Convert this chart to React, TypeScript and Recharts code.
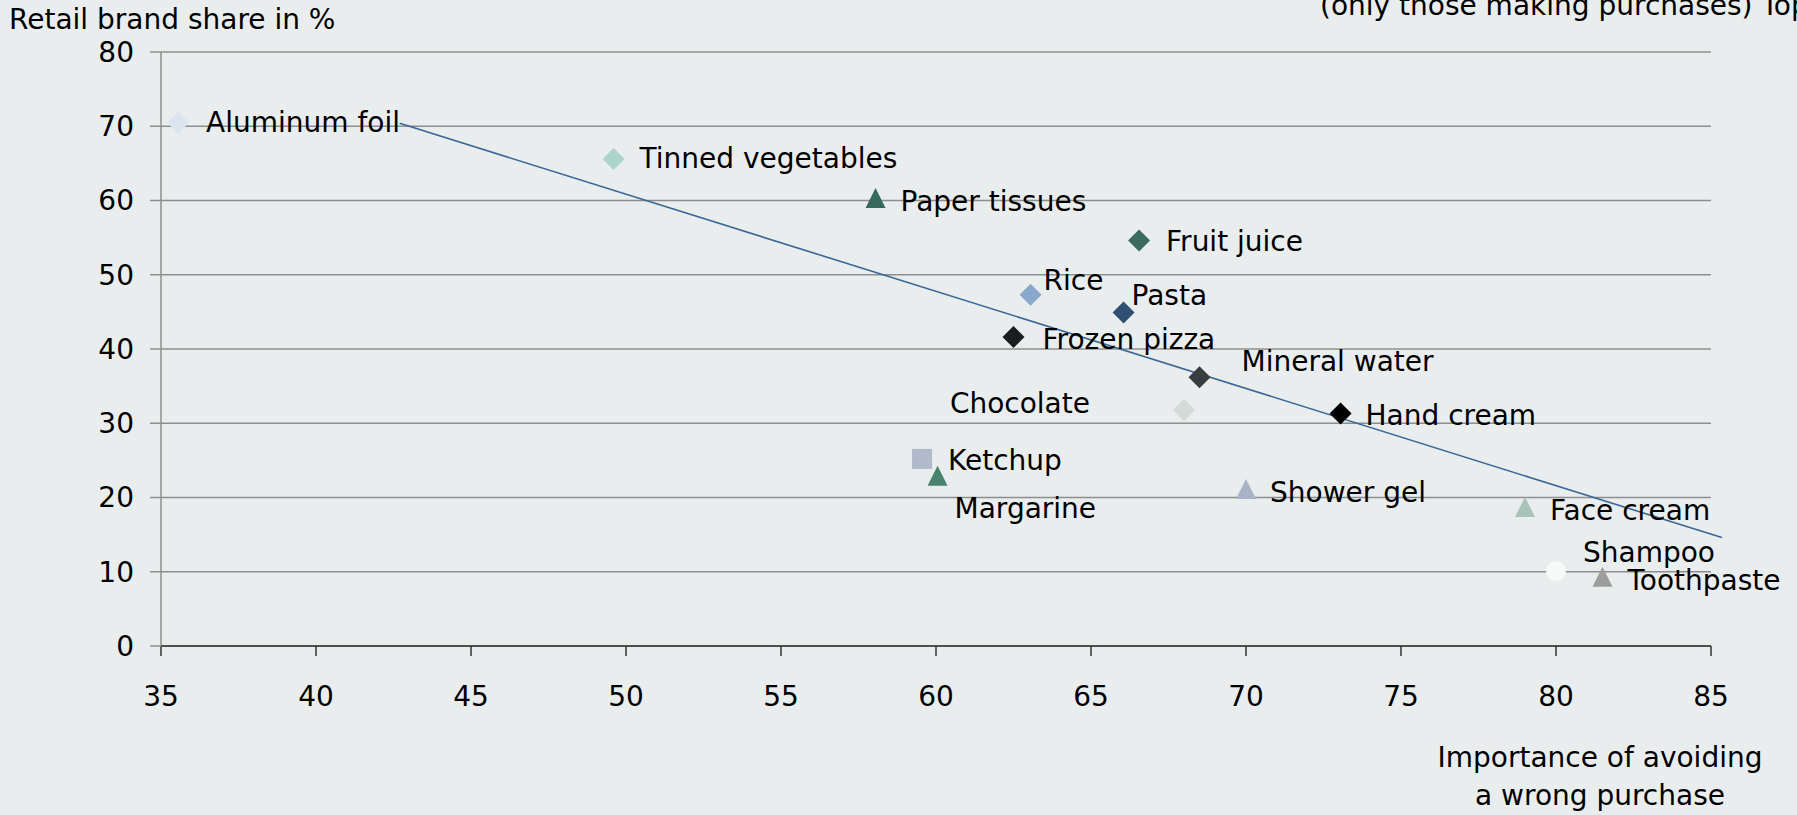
import {
  CartesianGrid,
  ReferenceLine,
  Scatter,
  ScatterChart,
  XAxis,
  YAxis,
} from "recharts";

const PRODUCTS = [
  "Aluminum foil",
  "Tinned vegetables",
  "Paper tissues",
  "Fruit juice",
  "Rice",
  "Pasta",
  "Frozen pizza",
  "Mineral water",
  "Chocolate",
  "Hand cream",
  "Ketchup",
  "Margarine",
  "Shower gel",
  "Face cream",
  "Shampoo",
  "Toothpaste",
];

// importance of avoiding a wrong purchase
const AVOID_WRONG = [35.55, 49.6, 58.05, 66.55, 63.05, 66.05, 62.5, 68.5, 68.0, 73.05, 59.55, 60.05, 70.0, 79.0, 80.0, 81.5];

// retail brand share in %
const BRAND_SHARE = [70.5, 65.6, 60.2, 54.6, 47.3, 44.9, 41.6, 36.2, 31.8, 31.3, 25.2, 22.8, 21.0, 18.6, 10.1, 9.2];

const X_TICKS = [35, 40, 45, 50, 55, 60, 65, 70, 75, 80, 85];
const Y_TICKS = [0, 10, 20, 30, 40, 50, 60, 70, 80];

// trend line endpoints
const TREND_X = [42.7, 85.35];
const TREND_Y = [70.4, 14.6];

// marker look per product
const MARKERS = [
  "diamond", "diamond", "triangle", "diamond", "diamond", "diamond", "diamond", "diamond",
  "diamond", "diamond", "square", "triangle", "triangle", "triangle", "circle", "triangle",
];
const COLORS = [
  "#dbe5ef", "#acd4c8", "#366a5a", "#3b6b5c", "#8aa8cc", "#2f5072", "#1a1c1e", "#383e3f",
  "#d3dbd8", "#000000", "#b1bacb", "#4a8270", "#a8b4c6", "#a9c3bb", "#f7f8f8", "#9d9d9d",
];

// label offsets from the marker centre (px), anchor
const LABEL_POS: [number, number, "start" | "end"][] = [
  [28, 0, "start"],
  [26, 0, "start"],
  [25, 2, "start"],
  [27, 1, "start"],
  [13, -14, "start"],
  [8, -17, "start"],
  [29, 2, "start"],
  [42, -16, "start"],
  [-94, -6, "end"],
  [25, 2, "start"],
  [26, 2, "start"],
  [17, 32, "start"],
  [24, 2, "start"],
  [25, 3, "start"],
  [27, -19, "start"],
  [25, 3, "start"],
];

const FONT = "'DejaVu Sans', Verdana, sans-serif";
const FS = 28;
const BG = "#e9edee";
const GRID = "#8e8e8e";

const data = PRODUCTS.map((name, i) => ({
  name,
  x: AVOID_WRONG[i],
  y: BRAND_SHARE[i],
  marker: MARKERS[i],
  color: COLORS[i],
  label: LABEL_POS[i],
}));

function PointShape(props: any) {
  const { cx, cy, payload } = props;
  if (cx == null || cy == null) return null;
  const c = payload.color;
  let mark = null;
  if (payload.marker === "diamond") {
    const r = 11;
    mark = <polygon points={`${cx},${cy - r} ${cx + r},${cy} ${cx},${cy + r} ${cx - r},${cy}`} fill={c} />;
  } else if (payload.marker === "triangle") {
    mark = <polygon points={`${cx},${cy - 11} ${cx + 10},${cy + 9} ${cx - 10},${cy + 9}`} fill={c} />;
  } else if (payload.marker === "square") {
    mark = <rect x={cx - 10} y={cy - 10} width={20} height={20} fill={c} />;
  } else {
    mark = <circle cx={cx} cy={cy} r={10} fill={c} />;
  }
  const [dx, dy, anchor] = payload.label;
  return (
    <g>
      {mark}
      <text
        x={cx + dx}
        y={cy + dy}
        textAnchor={anchor}
        dominantBaseline="central"
        fontSize={FS}
        fontFamily={FONT}
        fill="#000"
      >
        {payload.name}
      </text>
    </g>
  );
}

export default function App() {
  return (
    <div style={{ position: "fixed", inset: 0, background: BG, overflow: "hidden" }}>
      <ScatterChart
        width={1797}
        height={815}
        margin={{ top: 52, right: 86, bottom: 0, left: 0 }}
        style={{ fontFamily: FONT }}
      >
        <CartesianGrid horizontal vertical={false} stroke={GRID} strokeWidth={1.5} />
        <XAxis
          type="number"
          dataKey="x"
          domain={[35, 85]}
          ticks={X_TICKS}
          interval={0}
          height={169}
          tickSize={10}
          tickMargin={30}
          axisLine={{ stroke: "#333", strokeWidth: 1.5 }}
          tickLine={{ stroke: "#333", strokeWidth: 1.5 }}
          tick={{ fontSize: FS, fill: "#000", fontFamily: FONT }}
        />
        <YAxis
          type="number"
          dataKey="y"
          domain={[0, 80]}
          ticks={Y_TICKS}
          interval={0}
          width={161}
          tickSize={11}
          tickMargin={16}
          axisLine={{ stroke: GRID, strokeWidth: 1.5 }}
          tickLine={{ stroke: GRID, strokeWidth: 1.5 }}
          tick={{ fontSize: FS, fill: "#000", fontFamily: FONT }}
        />
        <Scatter data={data} shape={PointShape} isAnimationActive={false} />
        <ReferenceLine
          segment={[
            { x: TREND_X[0], y: TREND_Y[0] },
            { x: TREND_X[1], y: TREND_Y[1] },
          ]}
          ifOverflow="visible"
          stroke="#3a6796"
          strokeWidth={1.6}
        />
        <text x={9} y={29} fontSize={FS} fontFamily={FONT} fill="#000">
          Retail brand share in %
        </text>
        <text x={1320} y={15} fontSize={FS} fontFamily={FONT} fill="#000">
          (only those making purchases) TopBox in %
        </text>
        <text x={1600} y={757} textAnchor="middle" dominantBaseline="central" fontSize={FS} fontFamily={FONT} fill="#000">
          Importance of avoiding
        </text>
        <text x={1600} y={795} textAnchor="middle" dominantBaseline="central" fontSize={FS} fontFamily={FONT} fill="#000">
          a wrong purchase
        </text>
      </ScatterChart>
    </div>
  );
}
